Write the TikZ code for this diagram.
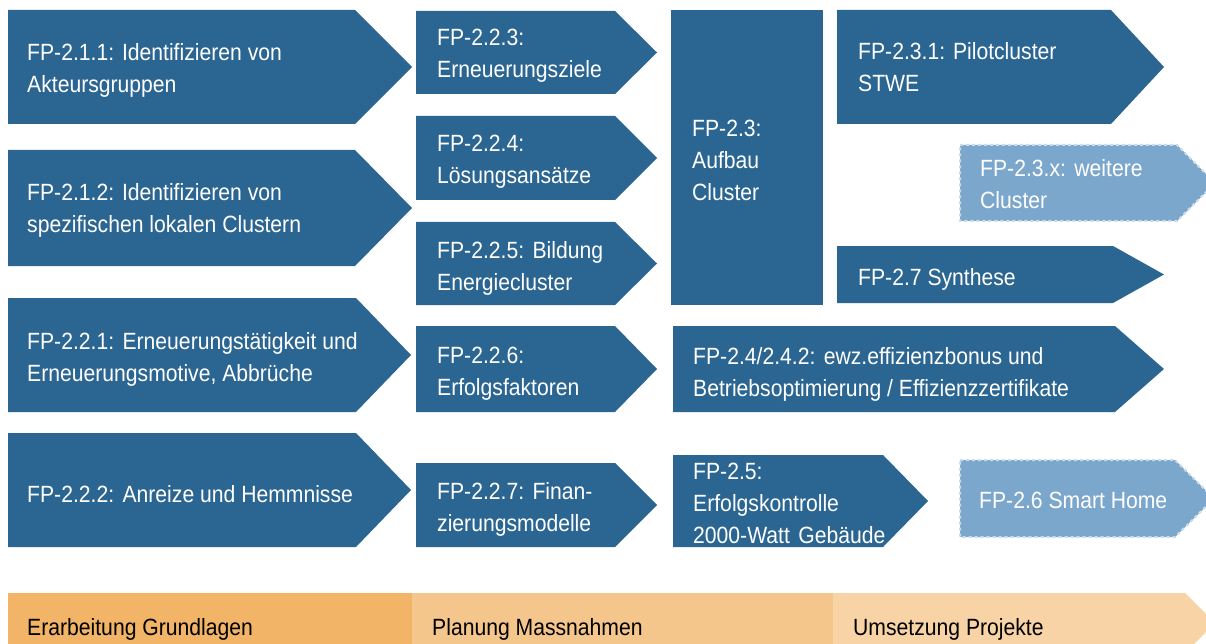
\documentclass[tikz,border=0pt]{standalone}
\usepackage{fontspec}
\setmainfont{Liberation Sans}[FakeStretch=0.90]
\definecolor{bl}{RGB}{43,101,145}
\definecolor{lb}{RGB}{123,167,204}
\definecolor{orA}{RGB}{242,180,103}
\definecolor{orB}{RGB}{245,198,140}
\definecolor{orC}{RGB}{247,211,166}
\newcommand{\chev}[6]{% style, left, top, bottom, rect end, tip x
  \path[#1] (#2,#3) -- (#5,#3) -- (#6,{(#3+#4)/2}) -- (#5,#4) -- (#2,#4) -- cycle;}
\newcommand{\wsp}{\ \hspace{2.5pt}}
\tikzset{
  solidblk/.style={fill=bl},
  dashblk/.style={fill=lb, draw=lb!40!white, line width=2pt, dash pattern=on 3pt off 3pt},
  txt/.style={text=white, align=left, inner sep=0pt, anchor=base west,
    font=\fontsize{23.5}{32}\selectfont},
  lbl/.style={text=black, inner sep=0pt, anchor=base west,
    font=\fontsize{23.5}{32}\selectfont},
}
\begin{document}
\begin{tikzpicture}[x=1pt,y=-1pt]
\useasboundingbox (0,0) rectangle (1206,644);
\clip (0,0) rectangle (1206,644);
% column 1
\chev{solidblk}{8}{10}{124}{355}{412}
\chev{solidblk}{8}{150}{266}{355}{412}
\chev{solidblk}{8}{298}{412}{356}{411}
\chev{solidblk}{8}{433}{547}{356}{411}
% column 2
\chev{solidblk}{416}{11}{94}{615}{657}
\chev{solidblk}{416}{116}{200}{615}{657}
\chev{solidblk}{416}{222}{305}{615}{657}
\chev{solidblk}{416}{326}{412}{615}{657}
\chev{solidblk}{416}{463}{547}{615}{657}
% column 3
\fill[bl] (671,10) rectangle (823,305);
\chev{solidblk}{837}{10}{124}{1111}{1164}
\chev{dashblk}{960}{145}{221}{1177}{1215}
\chev{solidblk}{837}{246}{303}{1113}{1164}
\chev{solidblk}{673}{326}{412}{1115}{1164}
\chev{solidblk}{673}{455}{547}{883}{928}
\chev{dashblk}{960}{460}{537}{1175}{1214}
% bottom bar
\fill[orC] (8,593) -- (1185,593) -- (1215,623) -- (1185,653) -- (8,653) -- cycle;
\fill[orA] (8,593) rectangle (412,653);
\fill[orB] (412,593) rectangle (833,653);
% texts (anchor = baseline of last line)
\node[txt] (n211) at (27,93) {FP-2.1.1: Identifizieren von\\Akteursgruppen};
\node[txt] (n212) at (27,233) {FP-2.1.2: Identifizieren von\\spezifischen lokalen Clustern};
\node[txt] (n221) at (27,381) {FP-2.2.1:\wsp Erneuerungstätigkeit und\\Erneuerungsmotive, Abbrüche};
\node[txt] (n222) at (27,502) {FP-2.2.2:\wsp Anreize und Hemmnisse};
\node[txt] (n223) at (437,78) {FP-2.2.3:\\Erneuerungsziele};
\node[txt] (n224) at (437,184) {FP-2.2.4:\\Lösungsansätze};
\node[txt] (n225) at (437,290) {FP-2.2.5:\wsp Bildung\\Energiecluster};
\node[txt] (n226) at (437,395) {FP-2.2.6:\\Erfolgsfaktoren};
\node[txt] (n227) at (437,531) {FP-2.2.7:\wsp Finan-\\zierungsmodelle};
\node[txt] (n23) at (692,201) {FP-2.3:\\Aufbau\\Cluster};
\node[txt] (n231) at (858,92) {FP-2.3.1: Pilotcluster\\STWE};
\node[txt] (n23x) at (980,209) {FP-2.3.x:\wsp weitere\\Cluster};
\node[txt] (n27) at (858,285) {FP-2.7 Synthese};
\node[txt] (n24) at (693,396) {FP-2.4/2.4.2:\wsp ewz.effizienzbonus und\\Betriebsoptimierung / Effizienzzertifikate};
\node[txt] (n25) at (693,543) {FP-2.5:\\Erfolgskontrolle\\2000-Watt\wsp Gebäude};
\node[txt] (n26) at (979,508) {FP-2.6 Smart Home};
\node[lbl] (p1) at (27,635) {Erarbeitung Grundlagen};
\node[lbl] (p2) at (432,635) {Planung Massnahmen};
\node[lbl] (p3) at (853,635) {Umsetzung Projekte};
\end{tikzpicture}
\end{document}
